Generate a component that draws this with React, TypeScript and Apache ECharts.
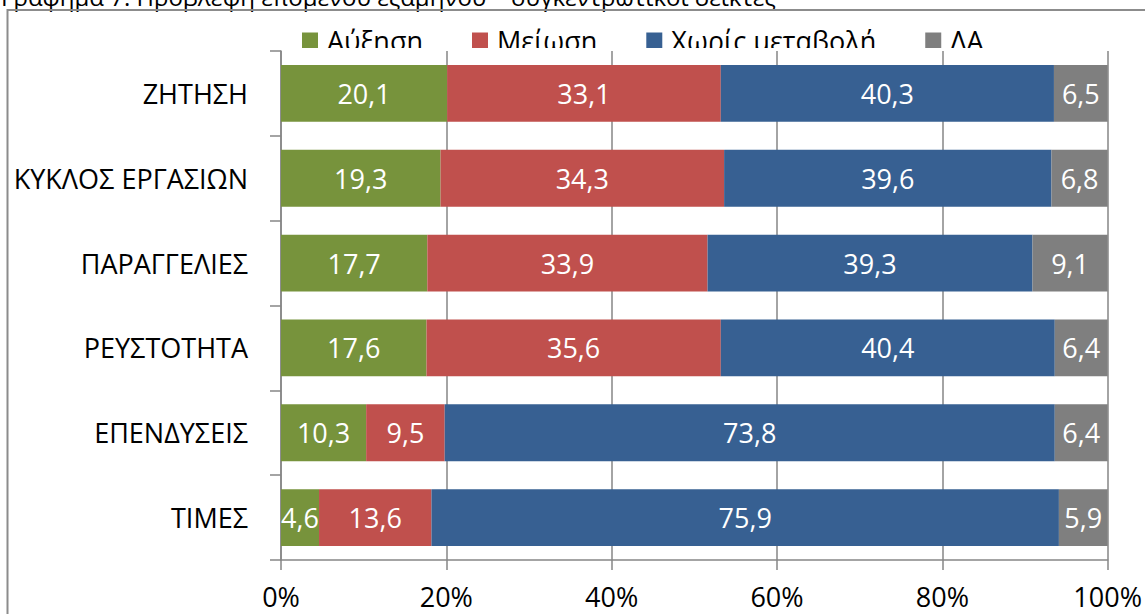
import React, { useEffect, useRef } from "react";
import * as echarts from "echarts";

const categories = ["ΖΗΤΗΣΗ", "ΚΥΚΛΟΣ ΕΡΓΑΣΙΩΝ", "ΠΑΡΑΓΓΕΛΙΕΣ", "ΡΕΥΣΤΟΤΗΤΑ", "ΕΠΕΝΔΥΣΕΙΣ", "ΤΙΜΕΣ"];
const seriesNames = ["Αύξηση", "Μείωση", "Χωρίς μεταβολή", "ΛΑ"];
const increase = [20.1, 19.3, 17.7, 17.6, 10.3, 4.6];
const decrease = [33.1, 34.3, 33.9, 35.6, 9.5, 13.6];
const noChange = [40.3, 39.6, 39.3, 40.4, 73.8, 75.9];
const dontKnow = [6.5, 6.8, 9.1, 6.4, 6.4, 5.9];
const xTicks = [0, 20, 40, 60, 80, 100];
const titleText = "Γράφημα 7: Πρόβλεψη επόμενου εξαμήνου – συγκεντρωτικοί δείκτες";

const colors = ["#77933C", "#C0504D", "#376092", "#7F7F7F"];
const FONT = "'Open Sans', 'Liberation Sans', sans-serif";
const FS = 27;

export default function App() {
  const ref = useRef<HTMLDivElement>(null);
  useEffect(() => {
    if (!ref.current) return;
    const chart = echarts.init(ref.current, null, { renderer: "svg" });
    const values = [increase, decrease, noChange, dontKnow];
    chart.setOption({
      animation: false,
      backgroundColor: "#ffffff",
      textStyle: { fontFamily: FONT },
      grid: { left: 281, right: 37, top: 51, bottom: 54, containLabel: false },
      legend: {
        data: seriesNames,
        left: 302,
        top: 27,
        padding: 0,
        itemGap: 49,
        itemWidth: 16,
        itemHeight: 16,
        icon: "rect",
        z: 1,
        textStyle: { fontSize: FS, color: "#000", fontFamily: FONT, padding: [0, 0, 0, 4] },
      },
      graphic: [
        {
          type: "text",
          x: 1,
          y: -4,
          z: 0,
          style: {
            text: titleText,
            fontSize: 24,
            fontFamily: FONT,
            fill: "#000",
            textVerticalAlign: "middle",
            verticalAlign: "middle",
          },
        },
        {
          type: "rect",
          shape: { x: 7.5, y: 10, width: 1300, height: 800 },
          style: { fill: "none", stroke: "#8C8C8C", lineWidth: 2 },
          z: 0,
        },
        {
          type: "rect",
          shape: { x: 262, y: 48, width: 860, height: 512 },
          style: { fill: "#ffffff" },
          z: 2,
        },
      ],
      xAxis: {
        type: "value",
        min: 0,
        max: 100,
        interval: 20,
        z: 3,
        axisLine: { show: true, lineStyle: { color: "#868686", width: 1.5 } },
        axisTick: { show: true, length: 10, lineStyle: { color: "#868686", width: 1.5 } },
        splitLine: { show: true, lineStyle: { color: "#868686", width: 1.5 } },
        axisLabel: {
          margin: 24,
          fontSize: FS,
          lineHeight: 25,
          color: "#000",
          fontFamily: FONT,
          formatter: (v: number) => (xTicks.includes(v) ? v + "%" : ""),
        },
      },
      yAxis: {
        type: "category",
        data: categories,
        inverse: true,
        z: 3,
        axisLine: { show: true, lineStyle: { color: "#868686", width: 1.5 } },
        axisTick: { show: true, length: 11, lineStyle: { color: "#868686", width: 1.5 } },
        axisLabel: { margin: 33, fontSize: FS, color: "#000", fontFamily: FONT },
      },
      series: seriesNames.map((name, i) => ({
        name,
        type: "bar",
        stack: "total",
        barCategoryGap: "33%",
        z: 4,
        itemStyle: { color: colors[i] },
        label: {
          show: true,
          position: "inside",
          color: "#fff",
          fontSize: FS,
          fontFamily: FONT,
          formatter: (p: any) => String(p.value.toFixed(1)).replace(".", ","),
        },
        data: values[i],
      })),
    });
    return () => chart.dispose();
  }, []);
  return (
    <div
      ref={ref}
      style={{ position: "fixed", left: 0, top: 0, width: 1145, height: 614, background: "#fff" }}
    />
  );
}
